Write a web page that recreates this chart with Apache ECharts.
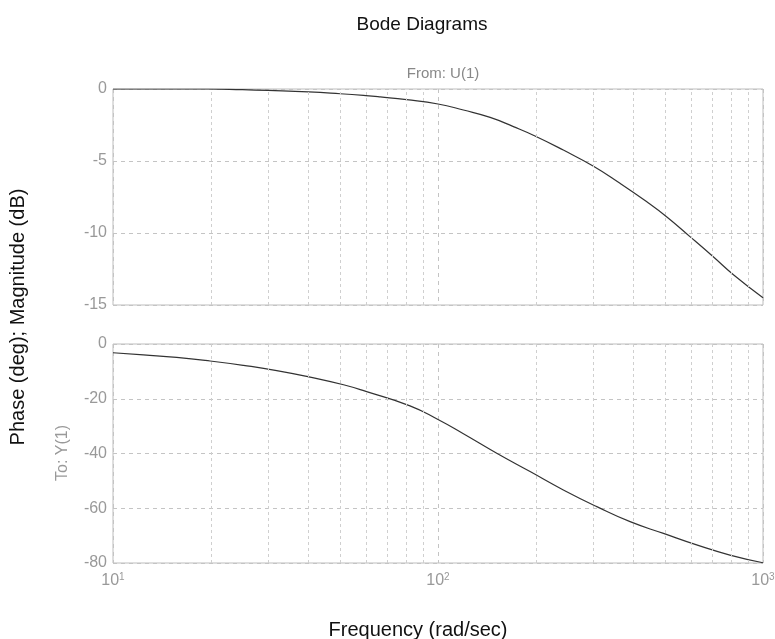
<!DOCTYPE html>
<html>
<head>
<meta charset="utf-8">
<script src="https://cdn.jsdelivr.net/npm/echarts@6/dist/echarts.min.js"></script>
<style>html,body{margin:0;padding:0;background:#fff}#c{width:775px;height:639px}</style>
</head>
<body>
<div id="c"></div>
<script>
// Frequency points (rad/sec) and values
var magFreq = [10, 15, 19.7, 25, 30, 40, 50, 60, 66.4, 80, 100, 119.7, 144.7, 170.6, 198.8, 243, 300, 363, 438, 505, 596, 703, 811, 1000];
var magDb   = [0, 0, 0, -0.05, -0.1, -0.2, -0.33, -0.46, -0.55, -0.74, -1.04, -1.46, -1.97, -2.61, -3.26, -4.24, -5.35, -6.55, -7.82, -8.87, -10.25, -11.65, -12.9, -14.5];

var phFreq = [10, 12.4, 15.7, 19.9, 25.2, 31.9, 40.4, 51.2, 60.3, 82, 100, 119.7, 151.6, 192, 243, 308, 390, 494, 625, 791, 1000];
var phDeg  = [-3.2, -4.0, -4.9, -6.2, -7.8, -9.7, -12.1, -14.9, -17.4, -22.6, -27.6, -32.8, -39.9, -46.6, -53.3, -59.4, -64.9, -69.2, -73.4, -77.1, -79.9];

var minorGrid = [20, 30, 40, 50, 60, 70, 80, 90, 200, 300, 400, 500, 600, 700, 800, 900];
var magTicks = {min: -15, max: 0, interval: 5};
var phTicks = {min: -80, max: 0, interval: 20};

function pairs(xs, ys){ return xs.map(function(x,i){ return [x, ys[i]]; }); }

var chart = echarts.init(document.getElementById('c'));
var FONT = 'Liberation Sans, Arial, sans-serif';
var gridLine = {lineStyle: {color: '#c4c4c4', type: [4, 4], width: 1}};
var minorMark = {
  silent: true, symbol: 'none', animation: false,
  label: {show: false},
  lineStyle: {color: '#cfcfcf', type: [3, 3], width: 1},
  data: minorGrid.map(function(v){ return {xAxis: v}; })
};

var xBase = {
  type: 'log', logBase: 10, min: 10, max: 1000,
  axisLine: {show: false}, axisTick: {show: false},
  splitLine: {show: true, lineStyle: {color: '#c4c4c4', type: [4, 4], width: 1}}
};

chart.setOption({
  animation: false,
  backgroundColor: '#fff',
  title: [
    {text: 'Bode Diagrams', left: 417, top: 10, textAlign: 'center',
     textStyle: {fontFamily: FONT, fontSize: 19, fontWeight: 'normal', color: '#111'}},
    {text: 'From: U(1)', left: 438, top: 61, textAlign: 'center',
     textStyle: {fontFamily: FONT, fontSize: 15, fontWeight: 'normal', color: '#888'}}
  ],
  graphic: [
    {type: 'text', rotation: Math.PI/2, position: [18, 317],
     style: {text: 'Phase (deg); Magnitude (dB)', font: '20px ' + FONT, fill: '#111', textAlign: 'center', textVerticalAlign: 'middle'}},
    {type: 'text', rotation: Math.PI/2, position: [63, 453],
     style: {text: 'To: Y(1)', font: '16px ' + FONT, fill: '#999', textAlign: 'center', textVerticalAlign: 'middle'}},
    {type: 'text', position: [418, 630],
     style: {text: 'Frequency (rad/sec)', font: '20px ' + FONT, fill: '#111', textAlign: 'center', textVerticalAlign: 'middle'}}
  ],
  grid: [
    {left: 113, top: 89, right: 12, height: 216, show: true, borderColor: '#bdbdbd', borderWidth: 1,
     containLabel: false, outerBoundsMode: 'none'},
    {left: 113, top: 344, right: 12, height: 219, show: true, borderColor: '#bdbdbd', borderWidth: 1,
     containLabel: false, outerBoundsMode: 'none'}
  ],
  xAxis: [
    Object.assign({}, xBase, {gridIndex: 0, axisLabel: {show: false}}),
    Object.assign({}, xBase, {gridIndex: 1, axisLabel: {
      show: true, margin: 9, color: '#999', fontFamily: FONT, fontSize: 16,
      formatter: function(v){ return '10{s|' + Math.round(Math.log10(v)) + '}'; },
      rich: {s: {fontSize: 10, color: '#999', fontFamily: FONT, verticalAlign: 'top', padding: [0, 0, 8, 0]}}
    }})
  ],
  yAxis: [
    {type: 'value', gridIndex: 0, min: magTicks.min, max: magTicks.max, interval: magTicks.interval,
     axisLine: {show: false}, axisTick: {show: false},
     axisLabel: {margin: 6, color: '#999', fontFamily: FONT, fontSize: 16},
     splitLine: gridLine},
    {type: 'value', gridIndex: 1, min: phTicks.min, max: phTicks.max, interval: phTicks.interval,
     axisLine: {show: false}, axisTick: {show: false},
     axisLabel: {margin: 6, color: '#999', fontFamily: FONT, fontSize: 16},
     splitLine: gridLine}
  ],
  series: [
    {type: 'line', xAxisIndex: 0, yAxisIndex: 0, data: pairs(magFreq, magDb), smooth: 0.5,
     showSymbol: false, lineStyle: {color: '#333', width: 1.2}, markLine: minorMark},
    {type: 'line', xAxisIndex: 1, yAxisIndex: 1, data: pairs(phFreq, phDeg), smooth: 0.5,
     showSymbol: false, lineStyle: {color: '#333', width: 1.2}, markLine: minorMark}
  ]
});
</script>
</body>
</html>
